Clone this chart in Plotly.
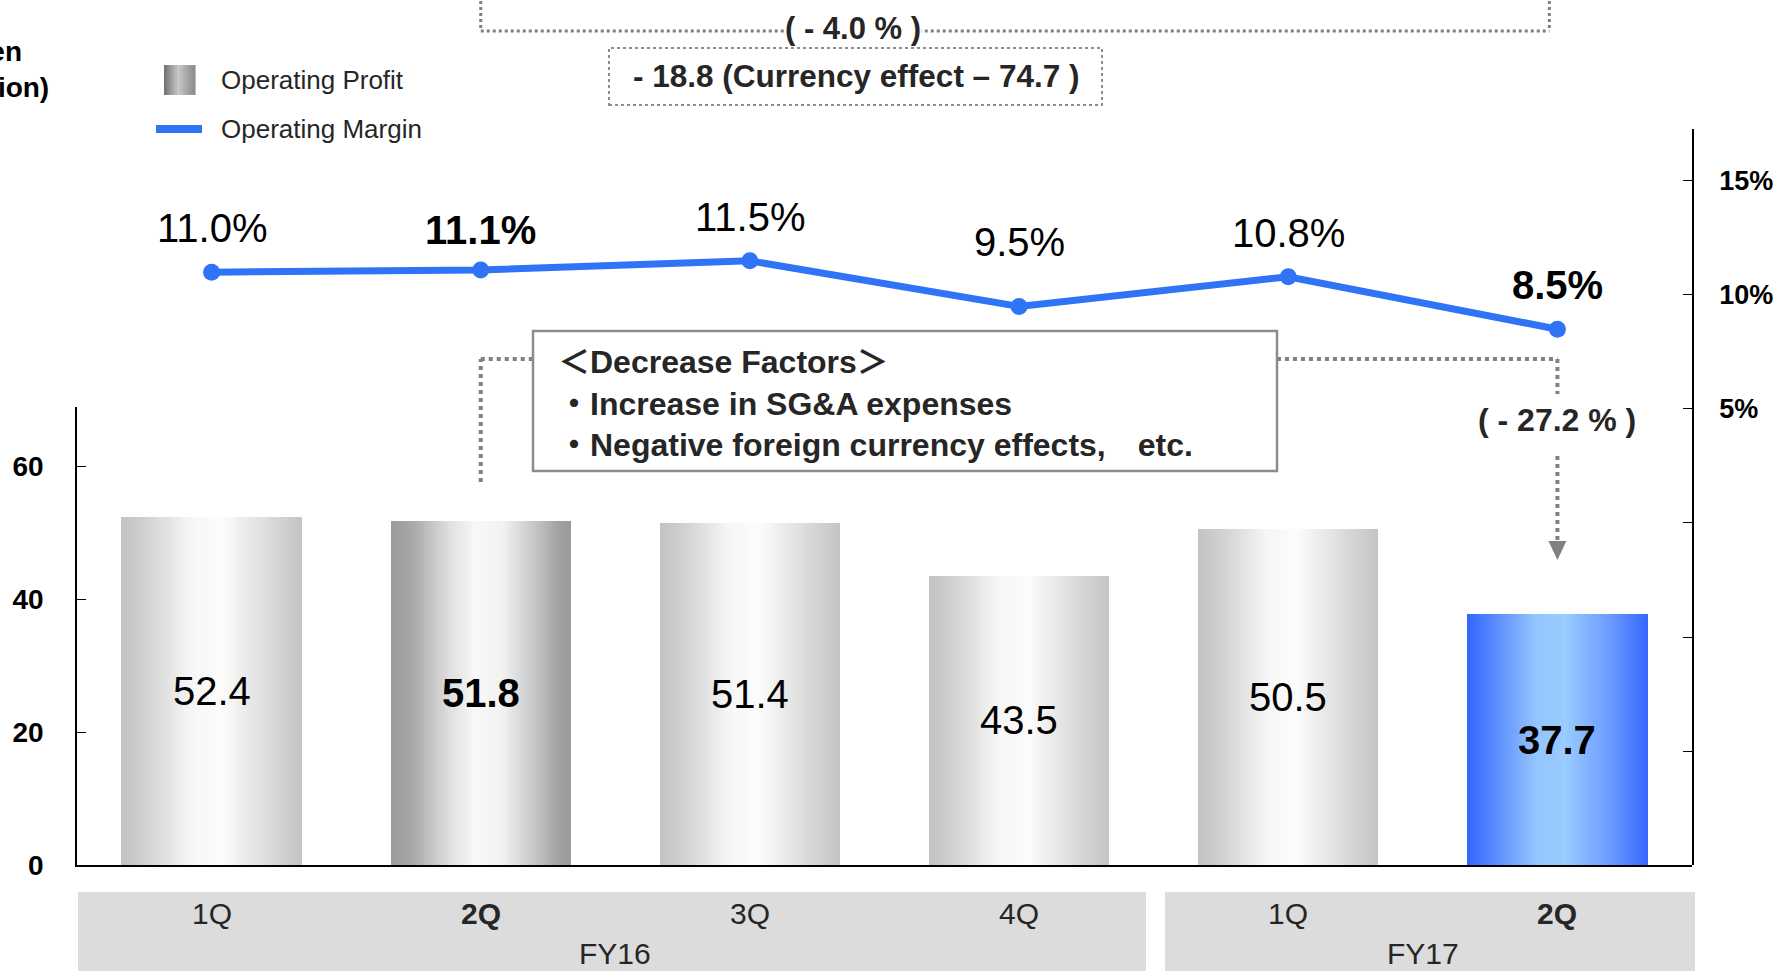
import plotly.graph_objects as go

# ---------------- data ----------------
quarters = ["1Q", "2Q", "3Q", "4Q", "1Q", "2Q"]
fiscal_years = ["FY16", "FY17"]
fy_members = [[0, 1, 2, 3], [4, 5]]
operating_profit = [52.4, 51.8, 51.4, 43.5, 50.5, 37.7]      # billion yen
operating_margin = [11.0, 11.1, 11.5, 9.5, 10.8, 8.5]        # %
highlight = [False, True, False, False, False, True]
profit_ticks = [0, 20, 40, 60]
margin_ticks = [-10, -5, 0, 5, 10, 15]
margin_labelled = [5, 10, 15]

# ---------------- style ----------------
FONT = "Arial, 'Liberation Sans', 'Noto Sans CJK JP', sans-serif"
TXT = "#262626"
LINE_BLUE = "#2F73F6"
DOT_GRAY = "#808080"
label_lift = [44, 40, 44, 64, 44, 44]   # pixel lift of each margin label above its point

GRAY = [(0, "#c2c2c2"), (0.15, "#d3d3d3"), (0.38, "#f6f6f6"), (0.55, "#fcfcfc"),
        (0.82, "#dadada"), (1, "#c4c4c4")]
DARK = [(0, "#9a9a9a"), (0.12, "#a8a8a8"), (0.32, "#dedede"), (0.47, "#f8f8f8"),
        (0.62, "#f2f2f2"), (0.82, "#c0c0c0"), (0.93, "#a2a2a2"), (1, "#9a9a9a")]
BLUE = [(0, "#3366ff"), (0.12, "#4f82ff"), (0.38, "#94c4fd"), (0.55, "#99ccff"),
        (0.8, "#6a98ff"), (1, "#3366ff")]
bar_styles = [BLUE if (h and i == len(highlight) - 1) else (DARK if h else GRAY)
              for i, h in enumerate(highlight)]


def hex2rgb(h):
    h = h.lstrip("#")
    return tuple(int(h[i:i + 2], 16) for i in (0, 2, 4))


def sample(stops, t):
    for (t0, c0), (t1, c1) in zip(stops, stops[1:]):
        if t <= t1:
            f = (t - t0) / (t1 - t0) if t1 > t0 else 0
            a, b = hex2rgb(c0), hex2rgb(c1)
            return "rgb(%d,%d,%d)" % tuple(round(a[j] + (b[j] - a[j]) * f) for j in range(3))
    return stops[-1][1]


# layout geometry (pixels of the 1778x971 page)
PL, PR, PT, PB = 77, 1692, 129, 865
PW, PH = PR - PL, PB - PT


def px(x):
    return (x - PL) / PW


def py(y):
    return (PB - y) / PH


xpos = list(range(len(quarters)))
XMIN, XMAX = -0.5, len(quarters) - 0.5


def xd(v):
    return (v - XMIN) / (XMAX - XMIN)


def note(x, y, text, size, xref="paper", yref="paper", xanchor="center", color=TXT, **kw):
    d = dict(x=x, y=y, xref=xref, yref=yref, xanchor=xanchor, yanchor="middle",
             showarrow=False, text=text, font=dict(size=size, color=color))
    d.update(kw)
    return d


fig = go.Figure()

# ---------------- bars (gradient via vertical strips) ----------------
N = 60
BW = 0.67
for k in range(N):
    t = (k + 0.5) / N
    w = BW / N * (1.12 if k < N - 1 else 1.0)
    fig.add_trace(go.Bar(
        x=xpos, y=operating_profit, width=w, offset=-BW / 2 + k * BW / N,
        marker=dict(color=[sample(s, t) for s in bar_styles], line=dict(width=0)),
        xaxis="x", yaxis="y", showlegend=False, hoverinfo="skip"))

# ---------------- margin line ----------------
fig.add_trace(go.Scatter(
    x=xpos, y=operating_margin, xaxis="x", yaxis="y2", mode="lines+markers",
    line=dict(color=LINE_BLUE, width=7), marker=dict(size=17, color=LINE_BLUE),
    showlegend=False, hoverinfo="skip"))

shapes = []
annotations = []

# category band
for grp, (x0, x1) in zip(fy_members, [(78, 1146), (1165, 1695)]):
    shapes.append(dict(type="rect", xref="paper", yref="paper", x0=px(x0), x1=px(x1),
                       y0=py(975), y1=py(892), line=dict(width=0), fillcolor="#dcdcdc",
                       layer="below"))
for i, q in enumerate(quarters):
    annotations.append(note(i, py(913), ("<b>%s</b>" % q) if highlight[i] else q, 30, xref="x"))
for fy, grp in zip(fiscal_years, fy_members):
    annotations.append(note(sum(grp) / len(grp), py(953), fy, 30, xref="x"))

# bar value labels
for i, v in enumerate(operating_profit):
    annotations.append(note(i, v / 2, ("<b>%.1f</b>" % v) if highlight[i] else "%.1f" % v, 40,
                            xref="x", yref="y", color="black"))
# margin labels
for i, m in enumerate(operating_margin):
    annotations.append(note(i, m, ("<b>%.1f%%</b>" % m) if highlight[i] else "%.1f%%" % m, 40,
                            xref="x", yref="y2", color="black", yshift=label_lift[i]))

# legend (manual)
LG = [(0, "#6e6e6e"), (0.45, "#c8c8c8"), (1, "#8a8a8a")]
ns = 12
for k in range(ns):
    x0 = 164 + (195 - 164) * k / ns
    x1 = 164 + (195 - 164) * (k + 1) / ns + 0.6
    shapes.append(dict(type="rect", xref="paper", yref="paper", x0=px(x0), x1=px(x1),
                       y0=py(95), y1=py(65), line=dict(width=0),
                       fillcolor=sample(LG, (k + 0.5) / ns)))
shapes.append(dict(type="line", xref="paper", yref="paper", x0=px(156), x1=px(202),
                   y0=py(129), y1=py(129), line=dict(color=LINE_BLUE, width=8)))
annotations.append(note(px(219), py(80), "Operating Profit", 26, xanchor="left"))
annotations.append(note(px(219), py(129), "Operating Margin", 26, xanchor="left"))

# axis unit title (cut at the left page edge, as in the original slide)
annotations.append(note(px(-3), py(70), "<b>Yen<br>(Billion)</b>", 28, color="black"))

# top bracket with (-4.0%)
dl = dict(color=DOT_GRAY, width=3, dash="dot")
for xv in (1, 4.97):
    shapes.append(dict(type="line", xref="paper", yref="paper", x0=xd(xv), x1=xd(xv),
                       y0=py(-5), y1=py(31), line=dl))
shapes.append(dict(type="line", xref="paper", yref="paper", x0=xd(1), x1=xd(4.97),
                   y0=py(31), y1=py(31), line=dl))
annotations.append(note(px(853), py(28), "<b>( - 4.0 % )</b>", 31, bgcolor="white", borderpad=0))
# currency box
shapes.append(dict(type="rect", xref="paper", yref="paper", x0=px(609), x1=px(1102),
                   y0=py(105), y1=py(48), line=dict(color="#8c8c8c", width=2, dash="dot"),
                   fillcolor="white"))
annotations.append(note(px(856), py(76), "<b>- 18.8 (Currency effect \u2013 74.7 )</b>", 31.5))

# connectors around the decrease-factors box
dl2 = dict(color=DOT_GRAY, width=4, dash="dot")
shapes.append(dict(type="line", xref="paper", yref="paper", x0=xd(1), x1=xd(1),
                   y0=py(482), y1=py(359), line=dl2))
shapes.append(dict(type="line", xref="paper", yref="paper", x0=xd(1), x1=px(533),
                   y0=py(359), y1=py(359), line=dl2))
shapes.append(dict(type="line", xref="paper", yref="paper", x0=px(1277), x1=xd(5),
                   y0=py(359), y1=py(359), line=dl2))
shapes.append(dict(type="line", xref="paper", yref="paper", x0=xd(5), x1=xd(5),
                   y0=py(359), y1=py(394), line=dl2))
shapes.append(dict(type="line", xref="paper", yref="paper", x0=xd(5), x1=xd(5),
                   y0=py(456), y1=py(542), line=dl2))
ax = xd(5)
hw = 9 / PW
shapes.append(dict(type="path", xref="paper", yref="paper",
                   path="M %f,%f L %f,%f L %f,%f Z" % (ax - hw, py(541), ax + hw, py(541), ax, py(560)),
                   line=dict(width=0), fillcolor=DOT_GRAY))
annotations.append(note(xd(5), py(420), "<b>( - 27.2 % )</b>", 32))

# decrease factors box
shapes.append(dict(type="rect", xref="paper", yref="paper", x0=px(533), x1=px(1277),
                   y0=py(471), y1=py(331), line=dict(color="#8c8c8c", width=2.5),
                   fillcolor="white"))
annotations.append(note(px(556), py(403),
                        "<b>\uff1cDecrease Factors\uff1e<br>\u30fbIncrease in SG&amp;A expenses"
                        "<br>\u30fbNegative foreign currency effects,\u3000etc.</b>",
                        32, xanchor="left", align="left"))

fig.update_layout(
    width=1778, height=971,
    margin=dict(l=PL, r=1778 - PR, t=PT, b=971 - PB, autoexpand=False),
    paper_bgcolor="white", plot_bgcolor="rgba(0,0,0,0)",
    barmode="overlay", bargap=0,
    font=dict(family=FONT, color=TXT),
    xaxis=dict(range=[XMIN, XMAX], showline=True, linecolor="black", linewidth=1.5,
               showticklabels=False, ticks="", showgrid=False, zeroline=False, fixedrange=True),
    yaxis=dict(domain=[0, (PB - 407) / PH], range=[0, 68.9], showline=True, linecolor="black",
               linewidth=1.5, ticks="inside", ticklen=9, tickcolor="black",
               tickvals=profit_ticks, ticktext=["<b>%d</b>" % v for v in profit_ticks],
               tickfont=dict(size=28, color="black"), ticklabelstandoff=26,
               showgrid=False, zeroline=False),
    yaxis2=dict(domain=[0, 1], anchor="x", side="right", range=[-15, 17.28],
                showline=True, linecolor="black", linewidth=1.5, ticks="inside", ticklen=9,
                tickcolor="black", tickvals=margin_ticks,
                ticktext=[("<b>%d%%</b>" % v) if v in margin_labelled else "" for v in margin_ticks],
                tickfont=dict(size=27, color="black"), ticklabelstandoff=20,
                showgrid=False, zeroline=False),
    shapes=shapes, annotations=annotations,
)

fig.write_html("out.html", config={"displayModeBar": False},
               post_script="document.body.style.margin='0';document.body.style.overflow='hidden';")
